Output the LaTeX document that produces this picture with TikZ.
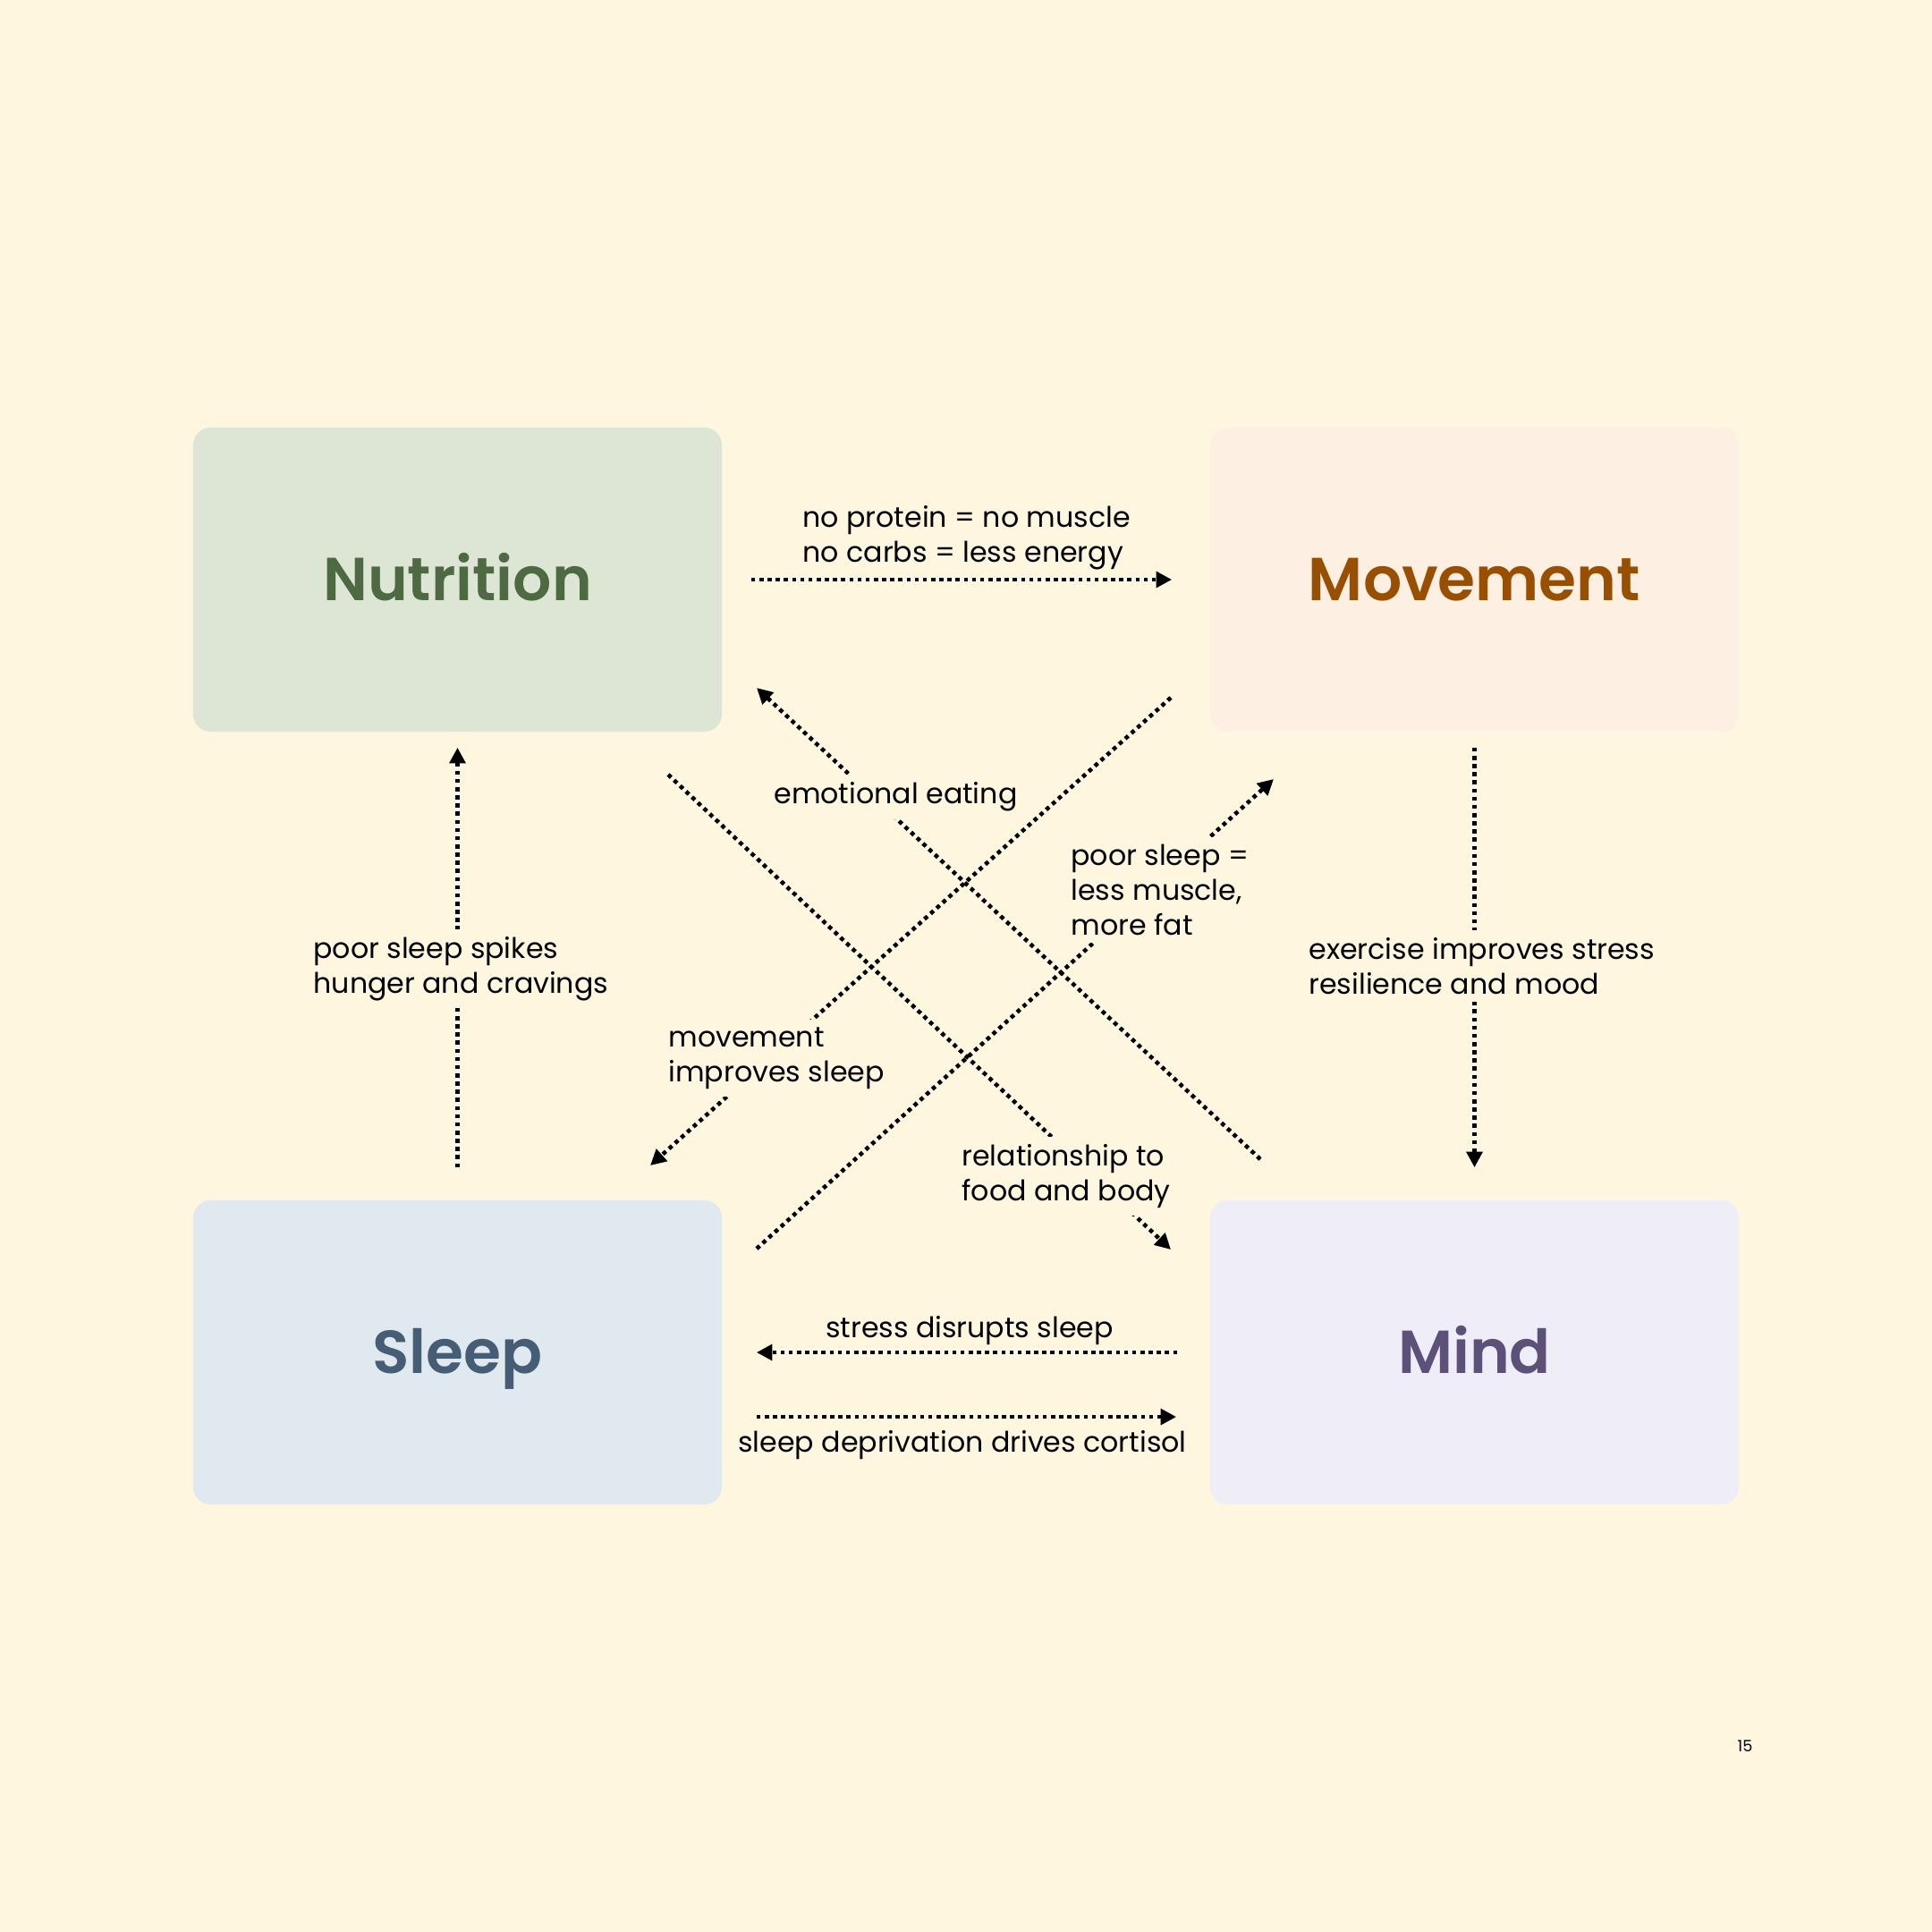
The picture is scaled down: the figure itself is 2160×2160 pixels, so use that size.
\documentclass[tikz,border=0pt]{standalone}
\usepackage{fontspec}
\setmainfont{Poppins}
\newfontfamily\titlefont{Poppins SemiBold}
\usetikzlibrary{arrows.meta}

\definecolor{pageBg}{HTML}{FFF6E0}
\definecolor{nutFill}{HTML}{DDE6D4}
\definecolor{nutText}{HTML}{4D6A43}
\definecolor{movFill}{HTML}{FDEFE1}
\definecolor{movText}{HTML}{994F00}
\definecolor{slpFill}{HTML}{E0E8F0}
\definecolor{slpText}{HTML}{465D76}
\definecolor{mndFill}{HTML}{EFEEF8}
\definecolor{mndText}{HTML}{5D517A}

\begin{document}
\begin{tikzpicture}
[x=0.01cm, y=-0.01cm,
  boxDecorate/.style={shape=rectangle,rounded corners=0.2cm,minimum width=5.91cm,minimum height=3.4cm,inner sep=0pt,text height=18pt,text depth=4.5pt,font=\titlefont\fontsize{19.3}{23}\selectfont},%
  lineDecorate/.style={line width=1.3pt,dash pattern=on 1.3pt off 1.3pt,-{Triangle[length=5pt,width=5pt]}},%
  labelDecorate/.style={fill=pageBg,anchor=west,align=left,inner sep=2.5pt,font=\fontsize{9}{11}\selectfont}]
\fill[pageBg] (0,0) rectangle (2160,2160);
\useasboundingbox (0,0) rectangle (2160,2160);
%% boxes
\foreach \nodename/\x/\y/\bg/\fg/\title in {nut/511.5/648/nutFill/nutText/Nutrition, mov/1648.5/648/movFill/movText/Movement, slp/511.5/1512/slpFill/slpText/Sleep, mnd/1648.5/1512/mndFill/mndText/Mind}
{
  \node (\nodename) at (\x,\y) [boxDecorate,fill=\bg,text=\fg] {\title};
}
%% straight links
\draw[lineDecorate,shorten <=0.32cm,shorten >=0.42cm] (nut.east) -- (mov.west);
\draw[lineDecorate,shorten <=0.17cm,shorten >=0.36cm] (mov.south) -- (mnd.north);
\draw[lineDecorate,shorten <=0.36cm,shorten >=0.17cm] (slp.north) -- (nut.south);
\draw[lineDecorate,shorten <=0.36cm,shorten >=0.38cm] (mnd.west) -- (slp.east);
\draw[lineDecorate,shorten <=0.38cm,shorten >=0.37cm] ([yshift=-0.72cm]slp.east) -- ([yshift=-0.72cm]mnd.west);
%% diagonal links
\coordinate (emoStart) at (1409,1296);
\coordinate (emoEnd) at (846,769);
\coordinate (relStart) at (747,866);
\coordinate (relEnd) at (1309,1397);
\coordinate (impStart) at (1309,780);
\coordinate (impEnd) at (727,1303);
\coordinate (fatStart) at (846,1396);
\coordinate (fatEnd) at (1424,871);
\foreach \startnode/\endnode in {emoStart/emoEnd, relStart/relEnd, impStart/impEnd, fatStart/fatEnd}
{
  \draw[lineDecorate] (\startnode) -- (\endnode);
}
%% labels
\node (protein) at (888,601) [labelDecorate] {no protein = no muscle\\no carbs = less energy};
\node (exercise) at (1454,1080) [labelDecorate] {exercise improves stress\\resilience and mood};
\node (hunger) at (341,1083) [labelDecorate] {poor sleep spikes\\hunger and cravings};
\node (stress) at (1084,1488) [labelDecorate,fill=none,anchor=center] {stress disrupts sleep};
\node (cortisol) at (1076,1616) [labelDecorate,fill=none,anchor=center] {sleep deprivation drives cortisol};
\node (emotional) at (856,891) [labelDecorate] {emotional eating};
\node (muscle) at (1188,995) [labelDecorate] {poor sleep =\\less muscle,\\more fat};
\node (improves) at (738,1183) [labelDecorate] {movement\\improves sleep};
\node (body) at (1066,1315) [labelDecorate] {relationship to\\food and body};
%% page number
\node (page) at (1951,1952) [font=\fontsize{5}{6}\selectfont] {15};
\end{tikzpicture}
\end{document}
